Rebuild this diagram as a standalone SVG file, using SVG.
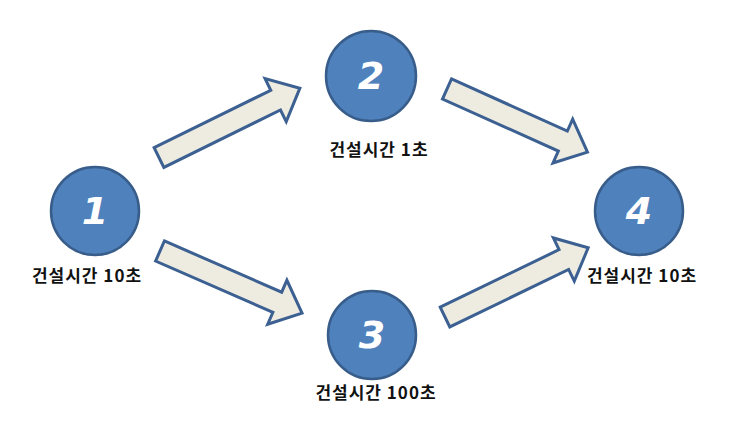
<svg xmlns="http://www.w3.org/2000/svg" width="730" height="426" viewBox="0 0 730 426">
<style>
.arrow{fill:#EEECE1;stroke:#3B6091;stroke-width:3;stroke-linejoin:miter}
.circ{fill:#4F81BD;stroke:#385D8A;stroke-width:2.5}
.num{fill:#FFFFFF;font-family:"DejaVu Sans","Liberation Sans",sans-serif;font-style:italic;font-weight:bold;font-size:38px;text-anchor:middle}
.lbl{fill:#111111;font-family:"Noto Sans CJK KR","Noto Sans",sans-serif;font-weight:bold;font-size:17px;letter-spacing:1px;text-anchor:middle}
</style>
<rect width="730" height="426" fill="#FFFFFF"/>
<g id="connectors">
<path class="arrow" transform="translate(159,157.5) rotate(-26.2)" d="M0,-11 H130 V-24 L157,0 L130,24 V11 H0 Z"/>
<path class="arrow" transform="translate(447,89) rotate(24.2)" d="M0,-11 H127 V-24 L154,0 L127,24 V11 H0 Z"/>
<path class="arrow" transform="translate(160,251) rotate(23.6)" d="M0,-11 H128 V-24 L155,0 L128,24 V11 H0 Z"/>
<path class="arrow" transform="translate(445,317) rotate(-25.8)" d="M0,-11 H132 V-24 L159,0 L132,24 V11 H0 Z"/>
</g>
<g id="node1">
<circle class="circ" cx="95" cy="211" r="44"/>
<text class="num" x="95" y="224">1</text>
<text class="lbl" x="87" y="282">건설시간 10초</text>
</g>
<g id="node2">
<circle class="circ" cx="371" cy="76" r="45"/>
<text class="num" x="371" y="89">2</text>
<text class="lbl" x="379" y="156">건설시간 1초</text>
</g>
<g id="node3">
<circle class="circ" cx="372" cy="335" r="44"/>
<text class="num" x="372" y="348">3</text>
<text class="lbl" x="376" y="399">건설시간 100초</text>
</g>
<g id="node4">
<circle class="circ" cx="639" cy="211" r="44"/>
<text class="num" x="639" y="224">4</text>
<text class="lbl" x="642" y="282">건설시간 10초</text>
</g>
</svg>
